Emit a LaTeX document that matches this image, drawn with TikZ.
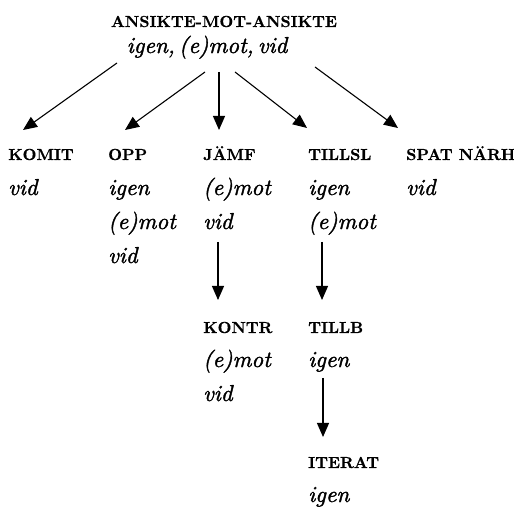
\documentclass[tikz,border=0pt]{standalone}
\usepackage{fontspec}
\usetikzlibrary{arrows.meta}
% heavier italic face for the word lists
\newfontface\wordface{lmroman10-italic}[Extension=.otf,FakeBold=1.6]
\newfontface\catface{lmroman10-bold}[Extension=.otf,FakeBold=0.6]
\begin{document}
\begin{tikzpicture}[x=1bp,y=1bp,
  cat/.style={anchor=base west,inner sep=0pt,font=\catface\fontsize{16bp}{18bp}\selectfont},
  word/.style={anchor=base west,inner sep=0pt,font=\wordface\fontsize{23bp}{26bp}\selectfont},
  arr/.style={line width=1.1bp,-{Triangle[length=14bp,width=12bp]}}]
\useasboundingbox (0,0) rectangle (514,507);
% top node
\node[cat,anchor=base] (title) at (224,480) {ANSIKTE-MOT-ANSIKTE};
\node[word,anchor=base] (root) at (207,454) {igen,\hspace{0.18em}(e)mot,\hspace{0.18em}vid};
% first level
\node[cat] (komit) at (8,347) {KOMIT};
\node[word] (komit1) at (8,312) {vid};
\node[cat] (opp) at (108,347) {OPP};
\node[word] (opp1) at (108,312) {igen};
\node[word] (opp2) at (108,278) {(e)mot};
\node[word] (opp3) at (108,244) {vid};
\node[cat] (jamf) at (203,347) {JÄMF};
\node[word] (jamf1) at (203,312) {(e)mot};
\node[word] (jamf2) at (203,278) {vid};
\node[cat] (tillsl) at (308,347) {TILLSL};
\node[word] (tillsl1) at (308,312) {igen};
\node[word] (tillsl2) at (308,278) {(e)mot};
\node[cat] (spat) at (406,347) {SPAT NÄRH};
\node[word] (spat1) at (406,312) {vid};
% second level
\node[cat] (kontr) at (203,174) {KONTR};
\node[word] (kontr1) at (203,140) {(e)mot};
\node[word] (kontr2) at (203,106) {vid};
\node[cat] (tillb) at (308,174) {TILLB};
\node[word] (tillb1) at (308,140) {igen};
% third level
\node[cat] (iterat) at (308,39) {ITERAT};
\node[word] (iterat1) at (308,5) {igen};
% connectors
\draw[arr] ([shift={(-90,-10)}]root.base) -- ([shift={(15,30)}]komit.base west);
\draw[arr] ([shift={(-2,-19)}]root.base) -- ([shift={(17,30)}]opp.base west);
\draw[arr] ([shift={(12,-19)}]root.base) -- ([shift={(16,30)}]jamf.base west);
\draw[arr] ([shift={(28,-19)}]root.base) -- ([shift={(-1,32)}]tillsl.base west);
\draw[arr] ([shift={(108,-14)}]root.base) -- ([shift={(-8,32)}]spat.base west);
\draw[arr] ([shift={(15,-13)}]jamf2.base west) -- ([shift={(15,33)}]kontr.base west);
\draw[arr] ([shift={(14,-13)}]tillsl2.base west) -- ([shift={(14,33)}]tillb.base west);
\draw[arr] ([shift={(15,-11)}]tillb1.base west) -- ([shift={(15,31)}]iterat.base west);
\end{tikzpicture}
\end{document}
